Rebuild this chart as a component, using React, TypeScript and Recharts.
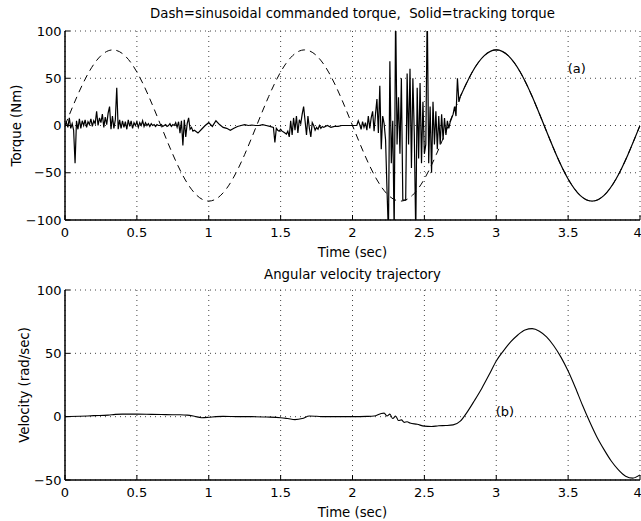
import React from 'react';
import { LineChart, Line, XAxis, YAxis, CartesianGrid, ReferenceDot } from 'recharts';

const FONT = '"DejaVu Sans", Verdana, sans-serif';

const timeTicks = [0, 0.5, 1, 1.5, 2, 2.5, 3, 3.5, 4];
const torqueTicks = [-100, -50, 0, 50, 100];
const velocityTicks = [-50, 0, 50, 100];

// commanded torque (dashed), one sample every 1/12 s from t = 0
const cmdStep = 1 / 12;
const cmdTorque = [
  0, 30.6, 56.6, 73.9, 80, 73.9, 56.6, 30.6, 0, -30.6, -56.6, -73.9, -80, -73.9, -56.6, -30.6,
  0, 30.6, 56.6, 73.9, 80, 73.9, 56.6, 30.6, 0, -30.6, -56.6, -73.9, -80, -73.9, -56.6, -30.6,
  0, 30.6, 56.6, 73.9, 80, 73.9, 56.6, 30.6, 0, -30.6, -56.6, -73.9, -80, -73.9, -56.6, -30.6,
  0,
];

// tracking torque (solid), read segment by segment
const trackA = [ // 0.00 .. 0.90, step 0.01
  0, 3, -2, 8, -3, 2, -5, -40, 5, -4, 7, -3, 5, 0, 6, -2, 4, 1, 7, -1,
  5, 2, 15, 0, 8, 3, 12, -2, 9, 1, 13, 20, -4, 10, -3, 6, 40, -4, 6, -3,
  5, -2, 4, -4, 6, -1, 5, -3, 3, 0, 4, -2, 3, 0, 5, -1, 3, 0, 2, -1,
  2, 0, 1, -1, 1, 0, 0, 1, -1, 0, 1, -1, 0, 2, -1, 1, 0, 3, -2, 4,
  -8, 5, -21, 6, -12, 2, 8, -4, -2, -6, -5,
];
const trackB = [ // 0.925 .. 1.45, step 0.025
  -8, -4, 0, 3, -1, 5, 1, -2, -3, -5, -3, -1, 0, 1, 0, 0.5, 0, 0, 1, 0, -1, -2,
];
const trackC = [ // 1.46 .. 1.80, step 0.01
  -18, -3, -5, -6, -4, -6, -7, -8, -9, -6, -12, 5, -10, 8, -5, 10, -8, 6, 2, 12,
  20, 5, -10, 10, -3, -12, 3, 0, -5, -2, -4, 0, -3, -1, -2,
];
const trackD = [ // 1.825 .. 2.025, step 0.025
  0, -2, -1, -1, 0, 0, 0, 0, 0,
];
const trackE = [ // 2.03 .. 2.74, step 0.01
  0, 5, 1, -4, 4, -2, 3, -5, 10, -3, 8, 15, -6, 12, 28, -8, 42, -25, 10, 2,
  -15, -68, -115, 68, -40, 5, -115, 125, -20, 30, -30, 50, -79, -79, -79, 55, -20, 60, -45, 50,
  -10, -115, 40, -35, 45, -40, 25, -30, -20, 125, -40, 20, -50, 25, -20, 15, -25, 10, -20, 12,
  -15, 8, -10, 5, -3, 4, 8, 12, 20, 10, 50, 25,
];
const trackTail = [ // 2.75 .. 4.00, step 1/12
  30.6, 56.6, 73.9, 80, 73.9, 56.6, 30.6, 0, -30.6, -56.6, -73.9, -80, -73.9, -56.6, -30.6, 0,
];

// angular velocity
const velocityTime = [
  0, 0.1, 0.2, 0.3, 0.35, 0.4, 0.5, 0.6, 0.7, 0.8, 0.85, 0.9, 0.95, 1.0, 1.05, 1.1, 1.2, 1.3, 1.4,
  1.5, 1.55, 1.6, 1.65, 1.7, 1.75, 1.8, 1.9, 2.0, 2.1, 2.15, 2.2, 2.22, 2.24, 2.26, 2.28, 2.3,
  2.32, 2.34, 2.36, 2.38, 2.4, 2.45, 2.5, 2.55, 2.6, 2.65, 2.7, 2.75, 2.8, 2.85, 2.9, 2.95, 3.0,
  3.05, 3.1, 3.15, 3.2, 3.25, 3.3, 3.35, 3.4, 3.45, 3.5, 3.55, 3.6, 3.65, 3.7, 3.75, 3.8, 3.85,
  3.9, 3.95, 4.0,
];
const velocityValue = [
  0, 0.3, 0.8, 1.2, 1.8, 2, 2, 1.8, 1.6, 1.5, 1.2, 0.3, -0.8, -0.5, 0, 0.2, 0, 0, -0.3,
  -0.8, -1.5, -2.3, -1.5, 0.5, 0.3, 0, 0, 0, 0.2, 0.5, 2.5, 2.8, 0.5, 2, -1.5, 0.5,
  -3, -2.5, -4.5, -4, -5, -6, -7.5, -7.8, -7.2, -7, -6.5, -3.5, 4, 13, 22.5, 33, 44,
  52, 59, 64.5, 68.5, 69.5, 67.5, 63, 56, 47, 36, 23, 9, -4, -16, -26, -35, -42,
  -47, -48.5, -46,
];

const cmdData = cmdTorque.map((v, i) => ({ t: +(i * cmdStep).toFixed(4), v }));

const segments = [
  { start: 0, step: 0.01, values: trackA },
  { start: 0.925, step: 0.025, values: trackB },
  { start: 1.46, step: 0.01, values: trackC },
  { start: 1.825, step: 0.025, values: trackD },
  { start: 2.03, step: 0.01, values: trackE },
];
const trackNoisy = segments.flatMap(s =>
  s.values.map((v, i) => ({ t: +(s.start + i * s.step).toFixed(4), v })),
);
const trackSmooth = trackTail.map((v, i) => ({ t: +((33 + i) / 12).toFixed(4), v }));
trackNoisy.push(trackSmooth[0]);

const velData = velocityTime.map((t, i) => ({ t, v: velocityValue[i] }));

const fmt = (v: number) => (v < 0 ? `\u2212${Math.abs(v)}` : `${v}`);
const tickStyle = { fill: '#000', fontSize: 13, fontFamily: FONT };

// box, inward ticks and dotted grid, matlab style
function axes(yDomain: [number, number], yTicks: number[]) {
  return [
    <CartesianGrid key="grid" stroke="#444" strokeDasharray="1 4" />,
    <XAxis
      key="xb"
      dataKey="t"
      type="number"
      domain={[0, 4]}
      ticks={timeTicks}
      height={30}
      tickSize={-5}
      tickMargin={13}
      axisLine={{ stroke: '#000', strokeWidth: 1.5 }}
      tickLine={{ stroke: '#000' }}
      tick={tickStyle}
      allowDataOverflow
    />,
    <XAxis
      key="xt"
      xAxisId="top"
      orientation="top"
      dataKey="t"
      type="number"
      domain={[0, 4]}
      ticks={timeTicks}
      height={0}
      tickSize={-5}
      tick={false}
      axisLine={{ stroke: '#000' }}
      tickLine={{ stroke: '#000' }}
    />,
    <YAxis
      key="yl"
      type="number"
      domain={yDomain}
      ticks={yTicks}
      width={65}
      tickSize={-5}
      tickMargin={8.5}
      tickFormatter={fmt}
      axisLine={{ stroke: '#000', strokeWidth: 1.5 }}
      tickLine={{ stroke: '#000' }}
      tick={tickStyle}
      allowDataOverflow
    />,
    <YAxis
      key="yr"
      yAxisId="right"
      orientation="right"
      type="number"
      domain={yDomain}
      ticks={yTicks}
      width={0}
      tickSize={-5}
      tick={false}
      axisLine={{ stroke: '#000' }}
      tickLine={{ stroke: '#000' }}
    />,
  ];
}

export default function App() {
  return (
    <div style={{ position: 'absolute', left: 0, top: 0, width: 641, height: 521, background: '#fff' }}>
      <div style={{ position: 'absolute', left: 0, top: 0 }}>
        <LineChart width={641} height={300} margin={{ top: 31, right: 1, bottom: 50, left: 0 }}>
          {axes([-100, 100], torqueTicks)}
          <Line data={cmdData} dataKey="v" type="natural" stroke="#000" strokeWidth={1}
            strokeDasharray="7 5" dot={false} activeDot={false} isAnimationActive={false} />
          <Line data={trackNoisy} dataKey="v" type="linear" stroke="#000" strokeWidth={1.2}
            dot={false} activeDot={false} isAnimationActive={false} />
          <Line data={trackSmooth} dataKey="v" type="natural" stroke="#000" strokeWidth={1.2}
            dot={false} activeDot={false} isAnimationActive={false} />
          <ReferenceDot x={3.56} y={60} r={0} fill="none" stroke="none"
            label={{ value: '(a)', position: 'center', fill: '#000', fontSize: 13, fontFamily: FONT }} />
        </LineChart>
      </div>
      <div style={{ position: 'absolute', left: 0, top: 260 }}>
        <LineChart width={641} height={261} margin={{ top: 30, right: 1, bottom: 11, left: 0 }}>
          {axes([-50, 100], velocityTicks)}
          <Line data={velData} dataKey="v" type="monotone" stroke="#000" strokeWidth={1.1}
            dot={false} activeDot={false} isAnimationActive={false} />
          <ReferenceDot x={3.06} y={4} r={0} fill="none" stroke="none"
            label={{ value: '(b)', position: 'center', fill: '#000', fontSize: 13, fontFamily: FONT }} />
        </LineChart>
      </div>
      <svg width={641} height={521} style={{ position: 'absolute', left: 0, top: 0, pointerEvents: 'none' }}
        fontFamily={FONT} fontSize={13.3} fill="#000">
        <text x={352.5} y={18} textAnchor="middle">Dash=sinusoidal commanded torque,{'\u00a0\u00a0'}Solid=tracking torque</text>
        <text x={352.5} y={257} textAnchor="middle">Time (sec)</text>
        <text x={352.5} y={279} textAnchor="middle">Angular velocity trajectory</text>
        <text x={352.5} y={517} textAnchor="middle">Time (sec)</text>
        <text transform="translate(21,125.5) rotate(-90)" textAnchor="middle">Torque (Nm)</text>
        <text transform="translate(29,385) rotate(-90)" textAnchor="middle">Velocity (rad/sec)</text>
      </svg>
    </div>
  );
}
